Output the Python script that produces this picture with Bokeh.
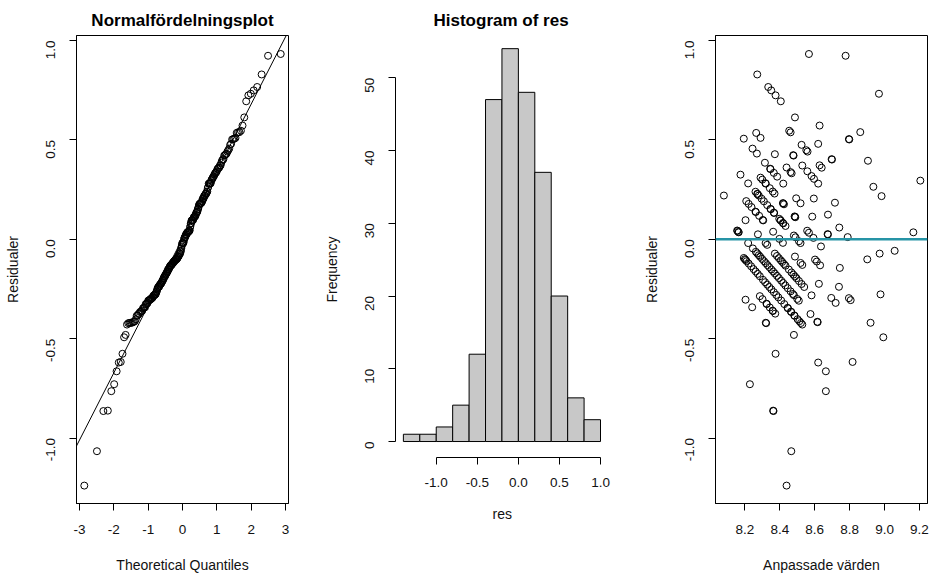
import math
from statistics import NormalDist

from bokeh.plotting import figure
from bokeh.layouts import row
from bokeh.models import Range1d, FixedTicker, NumeralTickFormatter, Slope, Span, Title
from bokeh.embed import file_html
from bokeh.resources import INLINE

# ---------------- data ----------------
fitted_values = [
    8.567, 8.777, 8.271,
    8.334, 8.351, 8.376, 8.406, 8.968, 8.487,
    8.628, 8.454, 8.462, 8.861, 8.265, 8.290, 8.194, 8.796, 8.798, 8.620,
    8.525, 8.552, 8.559, 8.244, 8.269, 8.372, 8.477, 8.479, 8.697, 8.699,
    8.905, 8.315, 8.345, 8.366, 8.385, 8.529, 8.558, 8.582, 8.596, 8.628,
    8.640, 8.439, 8.462, 8.468, 8.175, 8.290, 8.300, 8.318, 8.343, 8.360,
    8.420, 8.620, 8.219, 9.205, 8.936, 8.983, 8.080, 8.261, 8.271, 8.280,
    8.296, 8.370, 8.494, 8.595, 8.273, 8.320, 8.347,
    8.208, 8.222, 8.238, 8.261, 8.282, 8.519, 8.716, 8.309, 8.328, 8.347,
    8.366, 8.418, 8.424, 8.204, 8.303, 8.487, 8.489, 8.586, 8.676, 8.397,
    8.404, 8.418, 8.433, 8.156, 8.165, 8.362, 8.557, 8.567, 8.674, 8.676,
    8.741, 8.789, 9.165, 8.593, 8.275, 8.481, 8.490, 8.398, 8.420, 8.485,
    8.406, 8.420, 8.158, 8.163, 8.305, 8.263, 8.349, 8.368,
    8.510, 8.519, 8.418, 8.319, 8.328, 8.219, 8.246, 8.636, 8.901, 8.972,
    9.058, 8.602, 8.612, 8.631, 8.487, 8.519, 8.529, 8.744,
    8.194, 8.200, 8.204, 8.210, 8.222, 8.236, 8.250, 8.262, 8.274, 8.286,
    8.263, 8.271, 8.280, 8.288, 8.299, 8.310, 8.320, 8.330, 8.340, 8.352,
    8.362, 8.372, 8.384, 8.395,
    8.372, 8.384, 8.395, 8.406, 8.414, 8.424, 8.433, 8.452, 8.467, 8.478,
    8.487, 8.496,
    8.624, 8.739, 8.204, 8.242, 8.286, 8.301, 8.324, 8.343, 8.359, 8.374,
    8.380, 8.582, 8.576, 8.695, 8.720, 8.796, 8.806, 8.977, 8.426, 8.445,
    8.464, 8.483, 8.481, 8.500, 8.509, 8.510, 8.525,
    8.304, 8.316, 8.328, 8.340, 8.352, 8.366, 8.392, 8.408,
    8.408, 8.420, 8.432, 8.446, 8.462, 8.475,
    8.540,
    8.326, 8.361, 8.447, 8.466, 8.485,
    8.376, 8.993, 8.481, 8.320, 8.322, 8.920, 8.615, 8.617, 8.502, 8.512,
    8.521, 8.529,
    8.620, 8.664, 8.664, 8.817, 8.229, 8.362, 8.364, 8.466, 8.439,
]

residuals = [
    0.932, 0.923, 0.829,
    0.766, 0.749, 0.724, 0.694, 0.732, 0.613,
    0.572, 0.546, 0.538, 0.539, 0.535, 0.510, 0.506, 0.504, 0.502, 0.480,
    0.475, 0.448, 0.441, 0.456, 0.431, 0.428, 0.423, 0.421, 0.403, 0.401,
    0.395, 0.385, 0.355, 0.334, 0.315, 0.371, 0.342, 0.318, 0.304, 0.372,
    0.360, 0.361, 0.338, 0.332, 0.325, 0.310, 0.300, 0.282, 0.257, 0.240,
    0.280, 0.280, 0.281, 0.295, 0.264, 0.217, 0.220, 0.239, 0.229, 0.220,
    0.204, 0.230, 0.206, 0.205, 0.227, 0.280, 0.353,
    0.192, 0.178, 0.162, 0.139, 0.118, 0.181, 0.184, 0.191, 0.172, 0.153,
    0.134, 0.182, 0.176, 0.096, 0.097, 0.113, 0.111, 0.114, 0.124, 0.103,
    0.096, 0.082, 0.067, 0.044, 0.035, 0.038, 0.043, 0.033, 0.026, 0.024,
    0.059, 0.011, 0.035, 0.007, 0.025, 0.019, 0.010, 0.002, 0.180, 0.115,
    0.094, 0.080, 0.042, 0.037, 0.095, 0.137, 0.151, 0.132,
    -0.010, -0.019, -0.018, -0.019, -0.028, -0.019, -0.046, -0.036, -0.101, -0.072,
    -0.058, -0.102, -0.112, -0.131, -0.087, -0.119, -0.129, -0.144,
    -0.094, -0.100, -0.104, -0.110, -0.122, -0.136, -0.150, -0.162, -0.174, -0.186,
    -0.063, -0.071, -0.080, -0.088, -0.099, -0.110, -0.120, -0.130, -0.140, -0.152,
    -0.162, -0.172, -0.184, -0.195,
    -0.072, -0.084, -0.095, -0.106, -0.114, -0.124, -0.133, -0.152, -0.167, -0.178,
    -0.187, -0.196,
    -0.224, -0.239, -0.304, -0.342, -0.286, -0.301, -0.324, -0.343, -0.359, -0.374,
    -0.280, -0.282, -0.376, -0.295, -0.320, -0.296, -0.306, -0.277, -0.326, -0.345,
    -0.364, -0.383, -0.281, -0.300, -0.309, -0.210, -0.225,
    -0.204, -0.216, -0.228, -0.240, -0.252, -0.266, -0.292, -0.308,
    -0.208, -0.220, -0.232, -0.246, -0.262, -0.275,
    -0.240,
    -0.326, -0.361, -0.347, -0.366, -0.385,
    -0.576, -0.493, -0.481, -0.420, -0.422, -0.420, -0.415, -0.417, -0.402, -0.412,
    -0.421, -0.429,
    -0.620, -0.664, -0.764, -0.617, -0.729, -0.862, -0.864, -1.066, -1.239,
]
assert len(fitted_values) == len(residuals)

# histogram of residuals (bin edges and counts as drawn)
hist_edges = [-1.4, -1.2, -1.0, -0.8, -0.6, -0.4, -0.2, 0.0, 0.2, 0.4, 0.6, 0.8, 1.0]
hist_counts = [1, 1, 2, 5, 12, 47, 54, 48, 37, 20, 6, 3]

# reference line of the normal plot (qqline)
qq_line_intercept = 0.004
qq_line_slope = 0.338

qq_x_ticks = [-3, -2, -1, 0, 1, 2, 3]
res_ticks = [-1.0, -0.5, 0.0, 0.5, 1.0]
freq_ticks = [0, 10, 20, 30, 40, 50]
fit_ticks = [8.2, 8.4, 8.6, 8.8, 9.0, 9.2]

# theoretical normal quantiles (R's ppoints)
n = len(residuals)
sorted_res = sorted(residuals)
theo_q = [NormalDist().inv_cdf((i + 0.5) / n) for i in range(n)]

FONT = "Liberation Sans"
TICK_SIZE = "13.5px"
LABEL_SIZE = "14px"
TEXT_COLOR = "#111111"


def style(p, outline=True):
    p.xgrid.visible = False
    p.ygrid.visible = False
    p.background_fill_color = "white"
    p.border_fill_color = "white"
    p.outline_line_color = "black" if outline else None
    p.outline_line_width = 1
    p.outline_line_alpha = 1.0
    for ax in (p.xaxis[0], p.yaxis[0]):
        ax.major_tick_out = 7
        ax.major_tick_in = 0
        ax.minor_tick_line_color = None
        ax.axis_line_color = "black"
        ax.major_tick_line_color = "black"
        ax.major_label_text_font = FONT
        ax.major_label_text_font_size = TICK_SIZE
        ax.major_label_text_color = TEXT_COLOR
        ax.axis_label_text_font = FONT
        ax.axis_label_text_font_size = LABEL_SIZE
        ax.axis_label_text_font_style = "normal"
        ax.axis_label_text_color = TEXT_COLOR
    p.yaxis[0].major_label_orientation = math.pi / 2
    p.xaxis[0].major_label_standoff = 14
    p.yaxis[0].major_label_standoff = 19
    p.xaxis[0].axis_label_standoff = 20
    p.yaxis[0].axis_label_standoff = 18
    if p.title is not None:
        p.title.align = "center"
        p.title.text_font = FONT
        p.title.text_font_size = "17px"
        p.title.text_font_style = "bold"
        p.title.text_color = "black"
        p.title.standoff = 12


BORDERS = dict(min_border_top=35, min_border_bottom=73)

# ---------------- panel 1: normal probability plot ----------------
p1 = figure(width=310, height=576, output_backend="svg", toolbar_location=None,
            x_range=Range1d(-3.087, 3.087), y_range=Range1d(-1.329, 1.025),
            min_border_left=76, min_border_right=22, **BORDERS,
            title="Normalfördelningsplot",
            x_axis_label="Theoretical Quantiles", y_axis_label="Residualer")
style(p1)
p1.xaxis.ticker = FixedTicker(ticks=qq_x_ticks)
p1.xaxis.formatter = NumeralTickFormatter(format="0")
p1.yaxis.ticker = FixedTicker(ticks=res_ticks)
p1.yaxis.formatter = NumeralTickFormatter(format="0.0")
p1.scatter(theo_q, sorted_res, marker="circle", size=7, fill_color=None,
           line_color="black", line_width=1)
p1.add_layout(Slope(gradient=qq_line_slope, y_intercept=qq_line_intercept,
                    line_color="black", line_width=1))

# ---------------- panel 2: histogram ----------------
p2 = figure(width=310, height=576, output_backend="svg", toolbar_location=None,
            x_range=Range1d(-1.496, 1.219), y_range=Range1d(-8.52, 55.81),
            min_border_left=85, min_border_right=2, **BORDERS,
            title="Histogram of res",
            y_axis_label="Frequency")
style(p2, outline=False)
p2.title.align = "left"
p2.title.offset = 38
p2.xaxis.ticker = FixedTicker(ticks=res_ticks)
p2.xaxis.formatter = NumeralTickFormatter(format="0.0")
p2.yaxis.ticker = FixedTicker(ticks=freq_ticks)
p2.yaxis.formatter = NumeralTickFormatter(format="0")
p2.xaxis.bounds = (-1.0, 1.0)
p2.yaxis.bounds = (0, 50)
p2.xaxis.fixed_location = -2.16
p2.quad(left=hist_edges[:-1], right=hist_edges[1:], bottom=0, top=hist_counts,
        fill_color="#c8c8c8", line_color="black", line_width=1)
p2.add_layout(Title(text="res", align="left", offset=97, standoff=0,
                    text_font=FONT, text_font_size=LABEL_SIZE,
                    text_font_style="normal", text_color=TEXT_COLOR), "below")

# ---------------- panel 3: residuals vs fitted ----------------
p3 = figure(width=311, height=576, output_backend="svg", toolbar_location=None,
            x_range=Range1d(8.032, 9.246), y_range=Range1d(-1.329, 1.025),
            min_border_left=95, min_border_right=4, **BORDERS,
            x_axis_label="Anpassade värden", y_axis_label="Residualer")
style(p3)
p3.xaxis.ticker = FixedTicker(ticks=fit_ticks)
p3.xaxis.formatter = NumeralTickFormatter(format="0.0")
p3.yaxis.ticker = FixedTicker(ticks=res_ticks)
p3.yaxis.formatter = NumeralTickFormatter(format="0.0")
p3.scatter(fitted_values, residuals, marker="circle", size=7, fill_color=None,
           line_color="black", line_width=1)
p3.add_layout(Span(location=0, dimension="width", line_color="#2694a6", line_width=2.5))

layout = row(p1, p2, p3, spacing=0)

with open("out.html", "w") as f:
    f.write(file_html(layout, INLINE))
